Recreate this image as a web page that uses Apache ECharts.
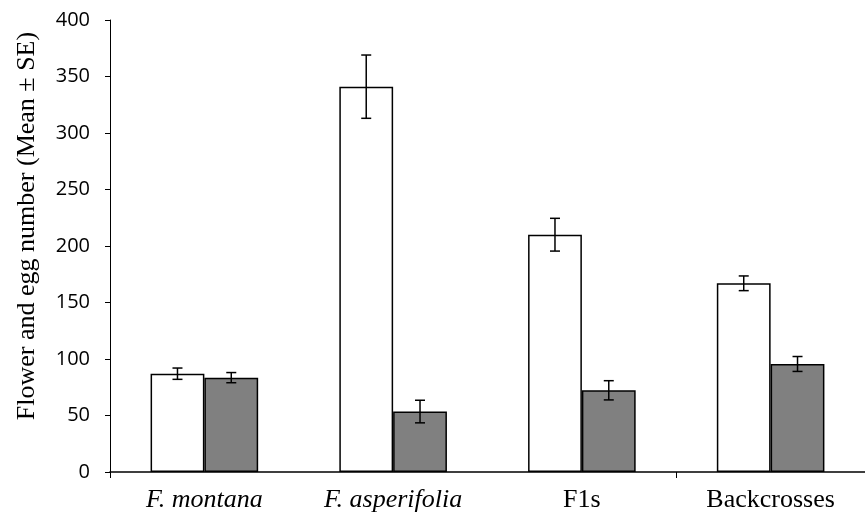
<!DOCTYPE html>
<html lang="en">
<head>
    <meta charset="utf-8">
    <title>Flower and egg number</title>
    <script src="https://cdn.jsdelivr.net/npm/echarts@6/dist/echarts.min.js"></script>
</head>
<body style="margin:0;background:#fff;">
    <div id="main" style="width:865px;height:519px;"></div>
    <script type="text/javascript">
    var categories = ['F. montana', 'F. asperifolia', 'F1s', 'Backcrosses'];
    var italicCats = ['F. montana', 'F. asperifolia'];
    // flower number (white bars) and egg number (grey bars)
    var flowerMean = [87, 341, 210, 167];
    var flowerSE = [5, 28, 14.5, 6.5];
    var eggMean = [83.5, 53.5, 72.3, 95.6];
    var eggSE = [4.5, 10, 8.5, 6.6];

    var catGap = 0.43;  // barCategoryGap as a fraction

    var myChart = echarts.init(document.getElementById('main'));

    function errorSeries(name, means, ses, side) {
        var d = [];
        for (var i = 0; i < means.length; i++) {
            d.push([i, means[i] - ses[i], means[i] + ses[i]]);
        }
        return {
            name: name,
            type: 'custom',
            z: 10,
            data: d,
            renderItem: function (params, api) {
                var idx = api.value(0);
                var lo = api.coord([idx, api.value(1)]);
                var hi = api.coord([idx, api.value(2)]);
                var band = api.size([1, 0])[0];
                var off = side * band * (1 - catGap) / 4;
                var x = lo[0] + off;
                var cap = 5;
                var st = { stroke: '#000', lineWidth: 1.5 };
                return {
                    type: 'group',
                    children: [
                        { type: 'line', shape: { x1: x, y1: hi[1], x2: x, y2: lo[1] }, style: st },
                        { type: 'line', shape: { x1: x - cap, y1: hi[1], x2: x + cap, y2: hi[1] }, style: st },
                        { type: 'line', shape: { x1: x - cap, y1: lo[1], x2: x + cap, y2: lo[1] }, style: st }
                    ]
                };
            }
        };
    }

    var option = {
        animation: false,
        backgroundColor: '#fff',
        grid: {
            left: 110,
            right: 0,
            top: 20,
            bottom: 47
        },
        xAxis: {
            type: 'category',
            data: categories,
            axisLine: { lineStyle: { color: '#000', width: 1.5 } },
            axisTick: {
                show: true,
                length: 6,
                interval: 2,
                lineStyle: { color: '#000' }
            },
            axisLabel: {
                interval: 0,
                margin: 15,
                color: '#000',
                fontFamily: 'Liberation Serif',
                fontSize: 26,
                formatter: function (v) {
                    return italicCats.indexOf(v) >= 0 ? '{it|' + v + '}' : v;
                },
                rich: {
                    it: {
                        fontStyle: 'italic',
                        fontFamily: 'Liberation Serif',
                        fontSize: 26,
                        color: '#000'
                    }
                }
            }
        },
        yAxis: {
            type: 'value',
            min: 0,
            max: 400,
            interval: 50,
            name: 'Flower and egg number (Mean \u00b1 SE)',
            nameLocation: 'middle',
            nameGap: 70,
            nameTextStyle: {
                color: '#000',
                fontFamily: 'Liberation Serif',
                fontSize: 26,
                padding: [0, 0, 0, 40]
            },
            axisLine: { show: true, lineStyle: { color: '#000', width: 1 } },
            axisTick: { show: true, length: 5, lineStyle: { color: '#000' } },
            splitLine: { show: false },
            axisLabel: {
                margin: 20,
                color: '#000',
                fontFamily: 'Open Sans',
                fontSize: 20
            }
        },
        series: [
            {
                name: 'Flowers',
                type: 'bar',
                data: flowerMean,
                barGap: '0%',
                barCategoryGap: (catGap * 100) + '%',
                itemStyle: { color: '#ffffff', borderColor: '#000', borderWidth: 1.5 }
            },
            {
                name: 'Eggs',
                type: 'bar',
                data: eggMean,
                itemStyle: { color: '#808080', borderColor: '#000', borderWidth: 1.5 }
            },
            errorSeries('Flowers SE', flowerMean, flowerSE, -1),
            errorSeries('Eggs SE', eggMean, eggSE, 1)
        ]
    };
    myChart.setOption(option);
    </script>
</body>
</html>
